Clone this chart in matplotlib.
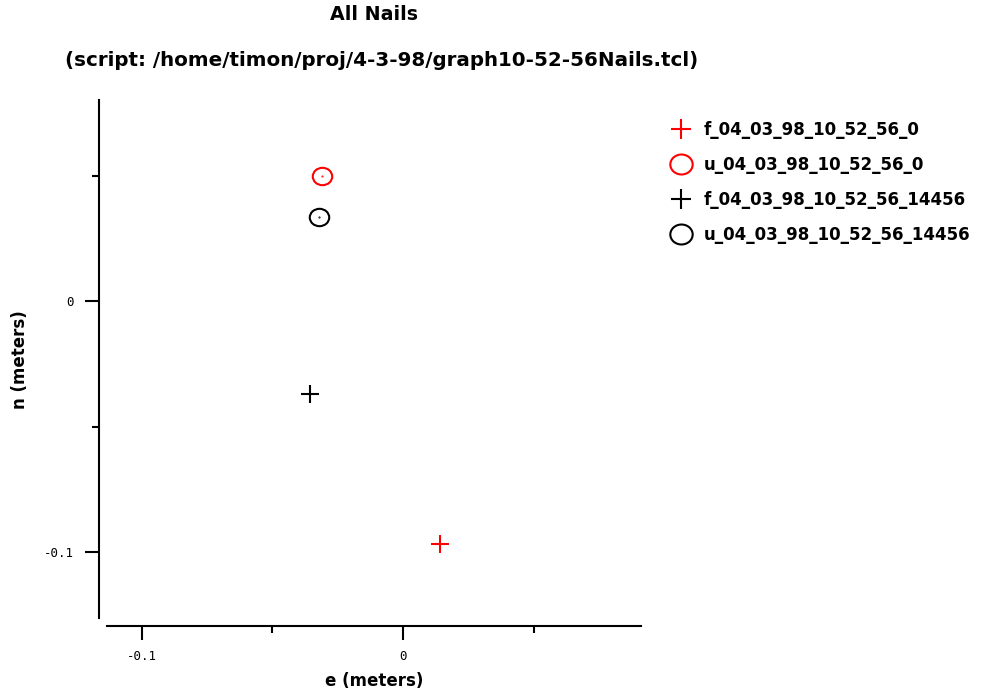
import matplotlib
matplotlib.use("Agg")
import matplotlib.pyplot as plt
from matplotlib.path import Path
from matplotlib.ticker import FixedLocator, FuncFormatter
import numpy as np

# ---- data ----
series_names = ["f_04_03_98_10_52_56_0", "u_04_03_98_10_52_56_0",
                "f_04_03_98_10_52_56_14456", "u_04_03_98_10_52_56_14456"]
series_e = [[0.0141], [-0.0310], [-0.0356], [-0.0321]]
series_n = [[-0.0968], [0.0498], [-0.0371], [0.0335]]
series_colors = ["red", "red", "black", "black"]
series_kind = ["plus", "circle", "plus", "circle"]

x_major = [-0.1, 0.0]
x_minor = [-0.05, 0.05]
y_major = [-0.1, 0.0]
y_minor = [-0.05, 0.05]

title = "All Nails"
subtitle = "(script: /home/timon/proj/4-3-98/graph10-52-56Nails.tcl)"
xlabel = "e (meters)"
ylabel = "n (meters)"

# ellipse marker (slightly wider than tall)
uc = Path.unit_circle()
ell = Path(uc.vertices * np.array([1.12, 1.0]), uc.codes)

fig = plt.figure(figsize=(9.93, 6.94), dpi=100)
ax = fig.add_axes([107/993, 1-618/694, (641-107)/993, (618-100)/694])
ax.set_xlim(-0.1132, 0.091)
ax.set_ylim(-0.1263, 0.0801)

for name, e, n, c, k in zip(series_names, series_e, series_n, series_colors, series_kind):
    if k == "plus":
        ax.plot(e, n, linestyle="none", marker="+", markersize=13, mew=1.5,
                color=c, label=name)
    else:
        ax.plot(e, n, linestyle="none", marker=ell, markersize=14, mew=1.5,
                markerfacecolor="none", markeredgecolor=c, label=name)
        ax.plot(e, n, linestyle="none", marker=".", markersize=1, color=c)

for s in ["top", "right"]:
    ax.spines[s].set_visible(False)
ax.spines["left"].set_position(("outward", 5.8))
ax.spines["bottom"].set_position(("outward", 5.8))
ax.spines["left"].set_linewidth(1.5)
ax.spines["bottom"].set_linewidth(1.5)

fmt = FuncFormatter(lambda v, p: "0" if abs(v) < 1e-12 else f"{v:g}")
ax.xaxis.set_major_locator(FixedLocator(x_major))
ax.xaxis.set_minor_locator(FixedLocator(x_minor))
ax.yaxis.set_major_locator(FixedLocator(y_major))
ax.yaxis.set_minor_locator(FixedLocator(y_minor))
ax.xaxis.set_major_formatter(fmt)
ax.yaxis.set_major_formatter(fmt)
ax.tick_params(which="major", length=10, width=1.5, labelsize=9,
               direction="out")
ax.tick_params(which="minor", length=5, width=1.5, direction="out")
ax.tick_params(axis="x", which="major", pad=7)
ax.tick_params(axis="y", which="major", pad=8)
for lab in ax.get_xticklabels() + ax.get_yticklabels():
    lab.set_family("DejaVu Sans Mono")

ax.set_xlabel(xlabel, fontsize=12, fontweight="bold")
ax.set_ylabel(ylabel, fontsize=12, fontweight="bold")
ax.xaxis.set_label_coords(374/993, 1-681/694, transform=fig.transFigure)
ax.yaxis.set_label_coords(20/993, 1-360/694, transform=fig.transFigure)
ax.xaxis.label.set_va("center")
ax.yaxis.label.set_va("center")

fig.text(374/993, 1-14/694, title, ha="center", va="center",
         fontsize=13.7, fontweight="bold")
fig.text(382/993, 1-60/694, subtitle, ha="center", va="center",
         fontsize=14.3, fontweight="bold")

leg = fig.legend(loc="upper left", bbox_to_anchor=(666/993, 1-114/694),
                 frameon=False, prop={"weight": "bold", "size": 12},
                 handlelength=1.0, handletextpad=0.85, labelspacing=1.02,
                 borderaxespad=0, markerscale=1.15)

fig.savefig("out.png", dpi=100)
